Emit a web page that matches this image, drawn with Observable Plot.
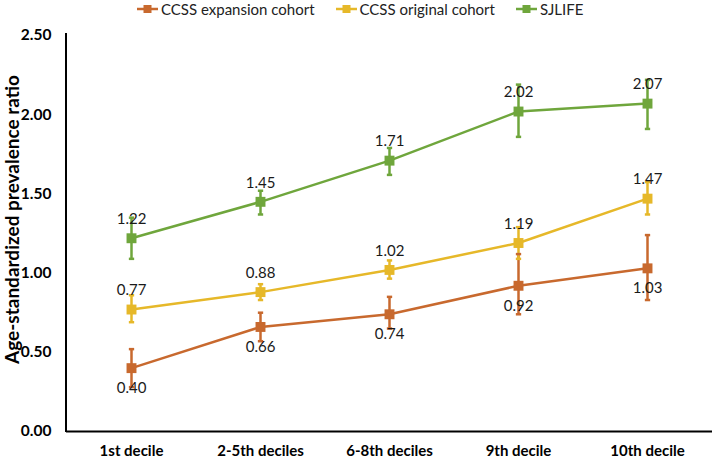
<!DOCTYPE html>
<html>
<head>
<meta charset="utf-8">
<script src="https://cdn.jsdelivr.net/npm/d3@7"></script>
<script src="https://cdn.jsdelivr.net/npm/@observablehq/plot@0.6"></script>
<style>
  body { margin: 0; background: #fff; font-family: Lato, "Open Sans", sans-serif; }
  #wrap { position: relative; width: 714px; height: 458px; }
  #legend { position: absolute; left: 137px; top: -1px; height: 20px; display: flex; align-items: center; font-size: 15px; color: #222; white-space: nowrap; }
  .item { display: flex; align-items: center; margin-right: 21px; }
  .item svg { margin-right: 3px; }
  #chart { position: absolute; left: 0; top: 20px; }
</style>
</head>
<body>
<div id="wrap">
  <div id="legend"></div>
  <div id="chart"></div>
</div>
<script>
const categories = ["1st decile", "2-5th deciles", "6-8th deciles", "9th decile", "10th decile"];
const seriesNames = ["CCSS expansion cohort", "CCSS original cohort", "SJLIFE"];
const seriesColors = ["#C8692E", "#E6B829", "#6FA63C"];

const expansionValues = [0.40, 0.66, 0.74, 0.92, 1.03];
const expansionLower  = [0.28, 0.57, 0.65, 0.74, 0.83];
const expansionUpper  = [0.52, 0.75, 0.85, 1.12, 1.24];

const originalValues = [0.77, 0.88, 1.02, 1.19, 1.47];
const originalLower  = [0.69, 0.83, 0.965, 1.09, 1.37];
const originalUpper  = [0.86, 0.93, 1.08, 1.29, 1.575];

const sjlifeValues = [1.22, 1.45, 1.71, 2.02, 2.07];
const sjlifeLower  = [1.09, 1.37, 1.62, 1.86, 1.91];
const sjlifeUpper  = [1.35, 1.52, 1.79, 2.19, 2.22];

const yTicks = [0, 0.5, 1, 1.5, 2, 2.5];

const seriesData = [
  [expansionValues, expansionLower, expansionUpper],
  [originalValues, originalLower, originalUpper],
  [sjlifeValues, sjlifeLower, sjlifeUpper]
];
const rows = [];
seriesNames.forEach((s, si) => {
  const [v, lo, hi] = seriesData[si];
  categories.forEach((c, i) => rows.push({series: s, cat: c, value: v[i], lo: lo[i], hi: hi[i], below: si === 0}));
});

// legend
const legend = document.getElementById("legend");
seriesNames.forEach((s, i) => {
  const item = document.createElement("div");
  item.className = "item";
  item.innerHTML = `<svg width="21" height="10"><line x1="0" x2="21" y1="5" y2="5" stroke="${seriesColors[i]}" stroke-width="2.5"/><rect x="6.5" y="1" width="8" height="8" fill="${seriesColors[i]}"/></svg><span>${s}</span>`;
  legend.appendChild(item);
});

const capSymbol = {
  draw(ctx, size) {
    const w = Math.sqrt(size);
    ctx.moveTo(-w / 2, 0);
    ctx.lineTo(w / 2, 0);
  }
};

const leftAxisLine = (index, scales, values, dim) => {
  const g = d3.create("svg:line")
    .attr("x1", dim.marginLeft).attr("x2", dim.marginLeft)
    .attr("y1", dim.marginTop - 2).attr("y2", dim.height - dim.marginBottom + 1)
    .attr("stroke", "#000").attr("stroke-width", 2);
  return g.node();
};

const plot = Plot.plot({
  width: 714,
  height: 438,
  marginLeft: 66,
  marginRight: 2,
  marginTop: 15,
  marginBottom: 27,
  style: {fontFamily: "Lato, 'Open Sans', sans-serif", background: "#fff", color: "#000"},
  x: {type: "point", domain: categories, padding: 0.5, label: null},
  y: {domain: [0, 2.5], label: null},
  color: {domain: seriesNames, range: seriesColors},
  marks: [
    Plot.axisX({tickSize: 0, tickPadding: 14, fontSize: 15, fontWeight: "bold", label: null}),
    Plot.axisY({ticks: yTicks, tickFormat: d3.format(".2f"), tickSize: 0, tickPadding: 15, fontSize: 15.5, fontWeight: "bold", label: null}),
    Plot.text(["Age-standardized prevalence ratio"], {
      frameAnchor: "left", textAnchor: "middle", dx: -54, dy: -14, rotate: -90, fontSize: 19, fontWeight: "bold", fill: "#000"
    }),
    Plot.ruleY([0], {stroke: "#000", strokeWidth: 2}),
    leftAxisLine,
    Plot.line(rows, {x: "cat", y: "value", z: "series", stroke: "series", strokeWidth: 2.5}),
    Plot.ruleX(rows, {x: "cat", y1: "lo", y2: "hi", stroke: "series", strokeWidth: 2.5}),
    Plot.dot(rows, {x: "cat", y: "lo", stroke: "series", symbol: capSymbol, r: 3, strokeWidth: 2.5}),
    Plot.dot(rows, {x: "cat", y: "hi", stroke: "series", symbol: capSymbol, r: 3, strokeWidth: 2.5}),
    Plot.dot(rows, {x: "cat", y: "value", fill: "series", symbol: "square", r: 5.6}),
    Plot.text(rows.filter(d => !d.below), {x: "cat", y: "value", text: d => d3.format(".2f")(d.value), dy: -19, fontSize: 15, fill: "#1a1a1a"}),
    Plot.text(rows.filter(d => d.below), {x: "cat", y: "value", text: d => d3.format(".2f")(d.value), dy: 20, fontSize: 15, fill: "#1a1a1a"})
  ]
});
document.getElementById("chart").appendChild(plot);
</script>
</body>
</html>
